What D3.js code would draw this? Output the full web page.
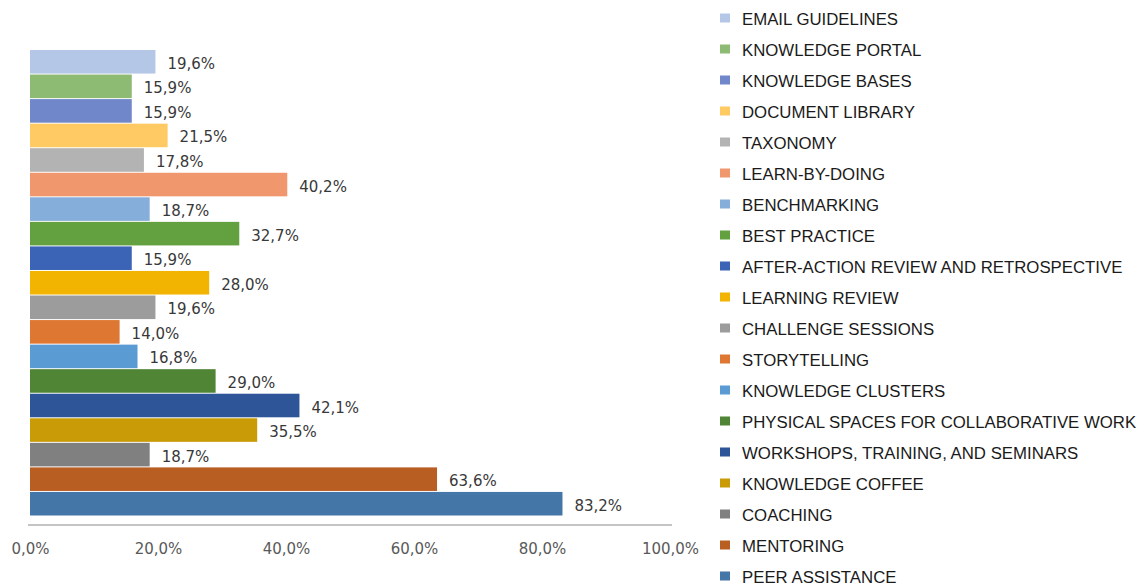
<!DOCTYPE html>
<html>
<head>
<meta charset="utf-8">
<script src="https://cdn.jsdelivr.net/npm/d3@7"></script>
<style>
  html, body { margin: 0; padding: 0; background: #ffffff; }
  svg { display: block; }
</style>
</head>
<body>
<svg id="chart" width="1143" height="586"></svg>
<script>
// Knowledge-sharing practices, share of respondents (%), top to bottom
const categories = [
  "EMAIL GUIDELINES",
  "KNOWLEDGE PORTAL",
  "KNOWLEDGE BASES",
  "DOCUMENT LIBRARY",
  "TAXONOMY",
  "LEARN-BY-DOING",
  "BENCHMARKING",
  "BEST PRACTICE",
  "AFTER-ACTION REVIEW AND RETROSPECTIVE",
  "LEARNING REVIEW",
  "CHALLENGE SESSIONS",
  "STORYTELLING",
  "KNOWLEDGE CLUSTERS",
  "PHYSICAL SPACES FOR COLLABORATIVE WORK",
  "WORKSHOPS, TRAINING, AND SEMINARS",
  "KNOWLEDGE COFFEE",
  "COACHING",
  "MENTORING",
  "PEER ASSISTANCE"
];
const values = [19.6, 15.9, 15.9, 21.5, 17.8, 40.2, 18.7, 32.7, 15.9, 28.0,
                19.6, 14.0, 16.8, 29.0, 42.1, 35.5, 18.7, 63.6, 83.2];
const colors = [
  "#b4c7e7", "#8dbb74", "#7088c9", "#ffc964", "#b3b3b3", "#f0976d",
  "#86aedb", "#63a03f", "#3b63b6", "#f2b400", "#9c9c9c", "#de7732",
  "#5a9bd3", "#4f8535", "#2e5597", "#c99b06", "#808080", "#b85e22",
  "#4477a8"
];
const tickValues = [0, 20, 40, 60, 80, 100];

const fmt = v => v.toFixed(1).replace(".", ",") + "%";

const svg = d3.select("#chart");

const x = d3.scaleLinear().domain([0, 100]).range([30, 670]);
const y = d3.scaleBand().domain(categories).range([50, 515.5]).paddingInner(0.04);

// Bars
svg.append("g")
  .selectAll("rect")
  .data(categories)
  .join("rect")
  .attr("x", x(0))
  .attr("y", d => y(d))
  .attr("width", (d, i) => x(values[i]) - x(0))
  .attr("height", y.bandwidth())
  .attr("fill", (d, i) => colors[i]);

// Value labels
svg.append("g")
  .selectAll("text")
  .data(categories)
  .join("text")
  .attr("x", (d, i) => x(values[i]) + 12)
  .attr("y", d => y(d) + y.bandwidth() / 2 + 2)
  .attr("dominant-baseline", "central")
  .attr("font-family", "DejaVu Sans, sans-serif")
  .attr("font-size", 15)
  .attr("fill", "#383838")
  .text((d, i) => fmt(values[i]));

// Horizontal axis
const axis = d3.axisBottom(x)
  .tickValues(tickValues)
  .tickSize(0)
  .tickPadding(18)
  .tickFormat(fmt);

const gx = svg.append("g")
  .attr("transform", "translate(0,525)")
  .call(axis);
gx.select(".domain")
  .attr("d", "M28,0H672")
  .attr("stroke", "#c4c4c4")
  .attr("stroke-width", 2);
gx.selectAll("text")
  .attr("font-family", "DejaVu Sans, sans-serif")
  .attr("font-size", 15)
  .attr("fill", "#595959");

// Legend
const ly = d3.scalePoint().domain(categories).range([19, 577]);
const legend = svg.append("g");
const item = legend.selectAll("g")
  .data(categories)
  .join("g")
  .attr("transform", d => `translate(720,${ly(d)})`);
item.append("rect")
  .attr("x", 0)
  .attr("y", -5.5)
  .attr("width", 10)
  .attr("height", 9)
  .attr("fill", (d, i) => colors[i]);
item.append("text")
  .attr("x", 22)
  .attr("y", 0)
  .attr("dominant-baseline", "central")
  .attr("font-family", "Liberation Sans, Arial, sans-serif")
  .attr("font-size", 16.8)
  .attr("fill", "#1a1a1a")
  .text(d => d);
</script>
</body>
</html>
